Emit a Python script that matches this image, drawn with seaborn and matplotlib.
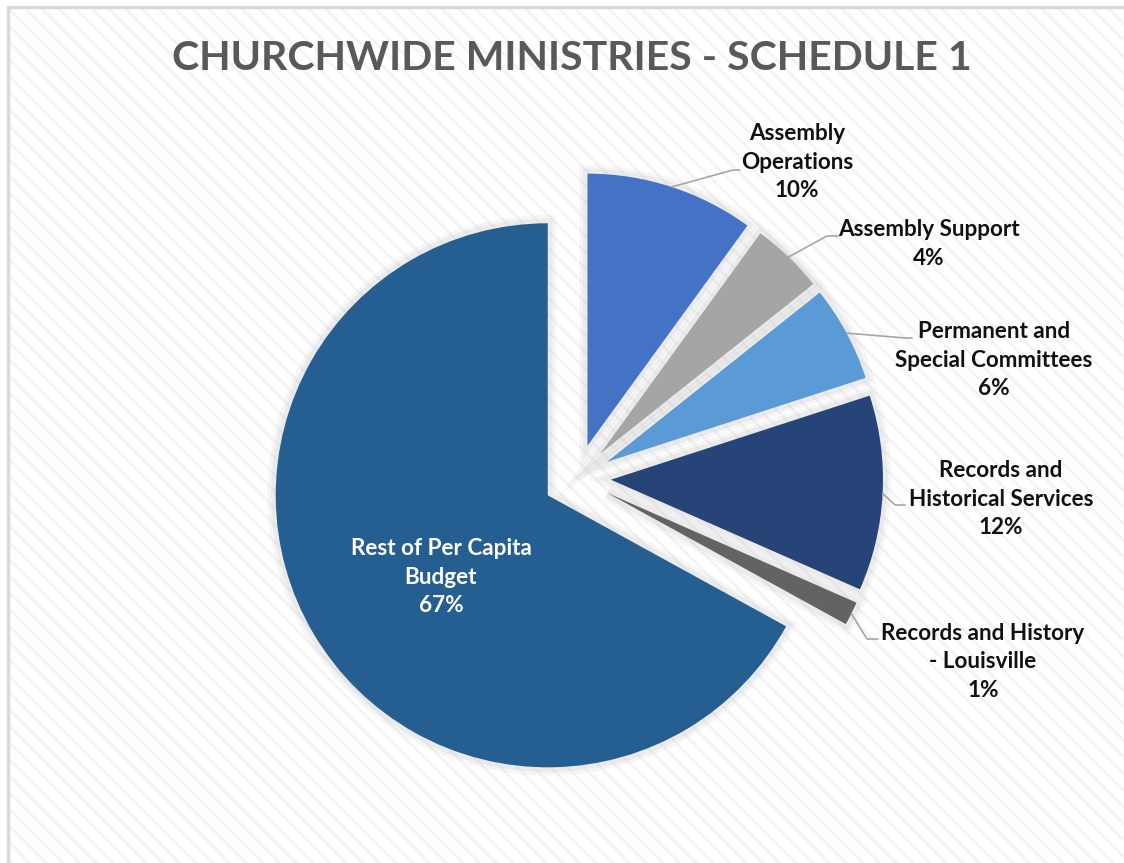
import numpy as np
import matplotlib
matplotlib.use("Agg")
import matplotlib.pyplot as plt
import matplotlib.patches as mpatches
from matplotlib.lines import Line2D
import seaborn as sns

# chart data
categories = ["Assembly\nOperations", "Assembly Support", "Permanent and\nSpecial Committees",
              "Records and\nHistorical Services", "Records and History\n- Louisville",
              "Rest of Per Capita\nBudget"]
shares = [10.0, 4.3, 5.7, 11.6, 1.4, 67.0]
slice_colors = ["#4472C4", "#A5A5A5", "#5B9BD5", "#264478", "#636363", "#255E91"]
title = "CHURCHWIDE MINISTRIES - SCHEDULE 1"

sns.set_style("white")
plt.rcParams["font.family"] = ["Lato", "DejaVu Sans"]
plt.rcParams["hatch.linewidth"] = 1.8

W, H = 1124, 863
CX, CY, R = 577, 478, 272   # pie centre / radius in pixels


def px(x, y):
    return ((x - CX) / R, (CY - y) / R)


fig = plt.figure(figsize=(W / 100, H / 100), dpi=100)
fig.patch.set_facecolor("white")

# striped background + frame
bg = mpatches.Rectangle((9 / W, 0), 1, 1 - 8 / H, transform=fig.transFigure,
                        facecolor="white", edgecolor="#f3f3f3", hatch="\\\\", lw=0, zorder=0)
fig.add_artist(bg)
fig.add_artist(Line2D([8 / W, 8 / W], [0, 1 - 7 / H], transform=fig.transFigure, color="#d9d9d9", lw=2.5))
fig.add_artist(Line2D([8 / W, 1], [1 - 7 / H, 1 - 7 / H], transform=fig.transFigure, color="#d9d9d9", lw=2.5))

ax = fig.add_axes([0, 0, 1, 1])
ax.patch.set_alpha(0)

explode = [0.125] * len(shares)
# soft glow under the slices
for lw, a in [(12, 0.12), (7, 0.18)]:
    ax.pie(shares, explode=explode, startangle=90, counterclock=False, radius=1,
           colors=["#bdbdbd"] * len(shares),
           wedgeprops=dict(lw=lw, edgecolor="#bdbdbd", alpha=a))
wedges, _ = ax.pie(shares, explode=explode, startangle=90, counterclock=False, radius=1,
                   colors=slice_colors, wedgeprops=dict(lw=0))

x0, y0 = px(0, H)
x1, y1 = px(W, 0)
ax.set_xlim(x0, x1)
ax.set_ylim(y0, y1)
ax.set_aspect("equal")
ax.axis("off")

# label layout (pixels)
label_pos = [(797, 162), (929, 244), (994, 360), (1001, 499), (983, 662), (441, 577)]
elbows = [[(733, 170), (740, 170)], [(827, 236), (838, 236)], [(905, 338), (912, 338)],
          [(895, 505), (905, 505)], [(867, 639), (878, 639)], None]

for w, cat, v, pos, elb in zip(wedges, categories, shares, label_pos, elbows):
    txt = f"{cat}\n{round(v)}%"
    color = "white" if elb is None else "#111111"
    tx, ty = px(*pos)
    ax.text(tx, ty, txt, ha="center", va="center", fontsize=16.2, fontweight="bold",
            color=color, linespacing=1.43, zorder=5)
    if elb is not None:
        mid = np.deg2rad((w.theta1 + w.theta2) / 2)
        sx = w.center[0] + w.r * np.cos(mid)
        sy = w.center[1] + w.r * np.sin(mid)
        pts = [(sx, sy)] + [px(*p) for p in elb]
        ax.plot([p[0] for p in pts], [p[1] for p in pts], color="#a6a6a6", lw=1.2, zorder=4)

fig.text(572 / W, 1 - 58 / H, title, ha="center", va="center", fontsize=29.5,
         fontweight="bold", color="#595959")

fig.savefig("out.png", dpi=100)
